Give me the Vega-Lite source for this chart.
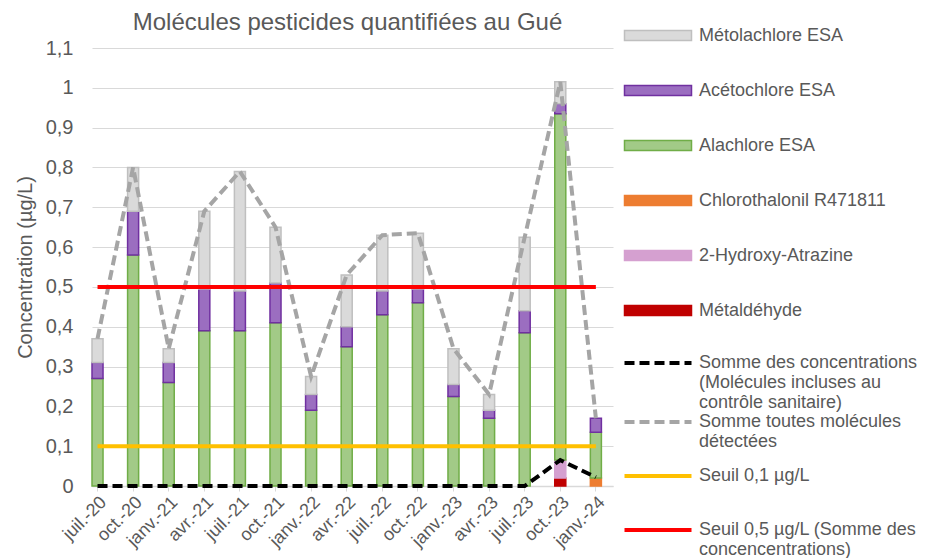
{
  "$schema": "https://vega.github.io/schema/vega-lite/v6.json",
  "width": 521,
  "height": 438,
  "autosize": {"type": "none"},
  "padding": {"left": 92, "top": 48, "right": 314, "bottom": 72},
  "background": "white",
  "config": {
    "font": "Liberation Sans",
    "view": {"stroke": null}
  },
  "title": {
    "text": "Molécules pesticides quantifiées au Gué",
    "fontSize": 24,
    "fontWeight": "normal",
    "color": "#595959",
    "anchor": "middle",
    "frame": "group",
    "dx": -5,
    "offset": -8
  },
  "resolve": {"scale": {"color": "independent", "stroke": "independent", "strokeDash": "independent"}},
  "datasets": {
    "bars": [
      {"date": "juil.-20", "series": "Alachlore ESA", "value": 0.27},
      {"date": "juil.-20", "series": "Acétochlore ESA", "value": 0.04},
      {"date": "juil.-20", "series": "Métolachlore ESA", "value": 0.06},
      {"date": "oct.-20", "series": "Alachlore ESA", "value": 0.58},
      {"date": "oct.-20", "series": "Acétochlore ESA", "value": 0.11},
      {"date": "oct.-20", "series": "Métolachlore ESA", "value": 0.11},
      {"date": "janv.-21", "series": "Alachlore ESA", "value": 0.26},
      {"date": "janv.-21", "series": "Acétochlore ESA", "value": 0.05},
      {"date": "janv.-21", "series": "Métolachlore ESA", "value": 0.035},
      {"date": "avr.-21", "series": "Alachlore ESA", "value": 0.39},
      {"date": "avr.-21", "series": "Acétochlore ESA", "value": 0.105},
      {"date": "avr.-21", "series": "Métolachlore ESA", "value": 0.195},
      {"date": "juil.-21", "series": "Alachlore ESA", "value": 0.39},
      {"date": "juil.-21", "series": "Acétochlore ESA", "value": 0.1},
      {"date": "juil.-21", "series": "Métolachlore ESA", "value": 0.3},
      {"date": "oct.-21", "series": "Alachlore ESA", "value": 0.41},
      {"date": "oct.-21", "series": "Acétochlore ESA", "value": 0.1},
      {"date": "oct.-21", "series": "Métolachlore ESA", "value": 0.14},
      {"date": "janv.-22", "series": "Alachlore ESA", "value": 0.19},
      {"date": "janv.-22", "series": "Acétochlore ESA", "value": 0.04},
      {"date": "janv.-22", "series": "Métolachlore ESA", "value": 0.045},
      {"date": "avr.-22", "series": "Alachlore ESA", "value": 0.35},
      {"date": "avr.-22", "series": "Acétochlore ESA", "value": 0.05},
      {"date": "avr.-22", "series": "Métolachlore ESA", "value": 0.13},
      {"date": "juil.-22", "series": "Alachlore ESA", "value": 0.43},
      {"date": "juil.-22", "series": "Acétochlore ESA", "value": 0.06},
      {"date": "juil.-22", "series": "Métolachlore ESA", "value": 0.14},
      {"date": "oct.-22", "series": "Alachlore ESA", "value": 0.46},
      {"date": "oct.-22", "series": "Acétochlore ESA", "value": 0.035},
      {"date": "oct.-22", "series": "Métolachlore ESA", "value": 0.14},
      {"date": "janv.-23", "series": "Alachlore ESA", "value": 0.225},
      {"date": "janv.-23", "series": "Acétochlore ESA", "value": 0.03},
      {"date": "janv.-23", "series": "Métolachlore ESA", "value": 0.09},
      {"date": "avr.-23", "series": "Alachlore ESA", "value": 0.17},
      {"date": "avr.-23", "series": "Acétochlore ESA", "value": 0.02},
      {"date": "avr.-23", "series": "Métolachlore ESA", "value": 0.04},
      {"date": "juil.-23", "series": "Alachlore ESA", "value": 0.385},
      {"date": "juil.-23", "series": "Acétochlore ESA", "value": 0.055},
      {"date": "juil.-23", "series": "Métolachlore ESA", "value": 0.185},
      {"date": "oct.-23", "series": "Métaldéhyde", "value": 0.02},
      {"date": "oct.-23", "series": "2-Hydroxy-Atrazine", "value": 0.045},
      {"date": "oct.-23", "series": "Alachlore ESA", "value": 0.87},
      {"date": "oct.-23", "series": "Acétochlore ESA", "value": 0.025},
      {"date": "oct.-23", "series": "Métolachlore ESA", "value": 0.055},
      {"date": "janv.-24", "series": "Chlorothalonil R471811", "value": 0.02},
      {"date": "janv.-24", "series": "Alachlore ESA", "value": 0.115},
      {"date": "janv.-24", "series": "Acétochlore ESA", "value": 0.035}
    ],
    "lines": [
      {"date": "juil.-20", "series": "Somme des concentrations|(Molécules incluses au|contrôle sanitaire)", "value": 0},
      {"date": "oct.-20", "series": "Somme des concentrations|(Molécules incluses au|contrôle sanitaire)", "value": 0},
      {"date": "janv.-21", "series": "Somme des concentrations|(Molécules incluses au|contrôle sanitaire)", "value": 0},
      {"date": "avr.-21", "series": "Somme des concentrations|(Molécules incluses au|contrôle sanitaire)", "value": 0},
      {"date": "juil.-21", "series": "Somme des concentrations|(Molécules incluses au|contrôle sanitaire)", "value": 0},
      {"date": "oct.-21", "series": "Somme des concentrations|(Molécules incluses au|contrôle sanitaire)", "value": 0},
      {"date": "janv.-22", "series": "Somme des concentrations|(Molécules incluses au|contrôle sanitaire)", "value": 0},
      {"date": "avr.-22", "series": "Somme des concentrations|(Molécules incluses au|contrôle sanitaire)", "value": 0},
      {"date": "juil.-22", "series": "Somme des concentrations|(Molécules incluses au|contrôle sanitaire)", "value": 0},
      {"date": "oct.-22", "series": "Somme des concentrations|(Molécules incluses au|contrôle sanitaire)", "value": 0},
      {"date": "janv.-23", "series": "Somme des concentrations|(Molécules incluses au|contrôle sanitaire)", "value": 0},
      {"date": "avr.-23", "series": "Somme des concentrations|(Molécules incluses au|contrôle sanitaire)", "value": 0},
      {"date": "juil.-23", "series": "Somme des concentrations|(Molécules incluses au|contrôle sanitaire)", "value": 0},
      {"date": "oct.-23", "series": "Somme des concentrations|(Molécules incluses au|contrôle sanitaire)", "value": 0.065},
      {"date": "janv.-24", "series": "Somme des concentrations|(Molécules incluses au|contrôle sanitaire)", "value": 0.022},
      {"date": "juil.-20", "series": "Somme toutes molécules|détectées", "value": 0.37},
      {"date": "oct.-20", "series": "Somme toutes molécules|détectées", "value": 0.8},
      {"date": "janv.-21", "series": "Somme toutes molécules|détectées", "value": 0.345},
      {"date": "avr.-21", "series": "Somme toutes molécules|détectées", "value": 0.69},
      {"date": "juil.-21", "series": "Somme toutes molécules|détectées", "value": 0.79},
      {"date": "oct.-21", "series": "Somme toutes molécules|détectées", "value": 0.65},
      {"date": "janv.-22", "series": "Somme toutes molécules|détectées", "value": 0.275},
      {"date": "avr.-22", "series": "Somme toutes molécules|détectées", "value": 0.53},
      {"date": "juil.-22", "series": "Somme toutes molécules|détectées", "value": 0.63},
      {"date": "oct.-22", "series": "Somme toutes molécules|détectées", "value": 0.635},
      {"date": "janv.-23", "series": "Somme toutes molécules|détectées", "value": 0.345},
      {"date": "avr.-23", "series": "Somme toutes molécules|détectées", "value": 0.23},
      {"date": "juil.-23", "series": "Somme toutes molécules|détectées", "value": 0.625},
      {"date": "oct.-23", "series": "Somme toutes molécules|détectées", "value": 1.015},
      {"date": "janv.-24", "series": "Somme toutes molécules|détectées", "value": 0.17},
      {"date": "juil.-20", "series": "Seuil 0,1 µg/L", "value": 0.1},
      {"date": "oct.-20", "series": "Seuil 0,1 µg/L", "value": 0.1},
      {"date": "janv.-21", "series": "Seuil 0,1 µg/L", "value": 0.1},
      {"date": "avr.-21", "series": "Seuil 0,1 µg/L", "value": 0.1},
      {"date": "juil.-21", "series": "Seuil 0,1 µg/L", "value": 0.1},
      {"date": "oct.-21", "series": "Seuil 0,1 µg/L", "value": 0.1},
      {"date": "janv.-22", "series": "Seuil 0,1 µg/L", "value": 0.1},
      {"date": "avr.-22", "series": "Seuil 0,1 µg/L", "value": 0.1},
      {"date": "juil.-22", "series": "Seuil 0,1 µg/L", "value": 0.1},
      {"date": "oct.-22", "series": "Seuil 0,1 µg/L", "value": 0.1},
      {"date": "janv.-23", "series": "Seuil 0,1 µg/L", "value": 0.1},
      {"date": "avr.-23", "series": "Seuil 0,1 µg/L", "value": 0.1},
      {"date": "juil.-23", "series": "Seuil 0,1 µg/L", "value": 0.1},
      {"date": "oct.-23", "series": "Seuil 0,1 µg/L", "value": 0.1},
      {"date": "janv.-24", "series": "Seuil 0,1 µg/L", "value": 0.1},
      {"date": "juil.-20", "series": "Seuil 0,5 µg/L (Somme des|concencentrations)", "value": 0.5},
      {"date": "oct.-20", "series": "Seuil 0,5 µg/L (Somme des|concencentrations)", "value": 0.5},
      {"date": "janv.-21", "series": "Seuil 0,5 µg/L (Somme des|concencentrations)", "value": 0.5},
      {"date": "avr.-21", "series": "Seuil 0,5 µg/L (Somme des|concencentrations)", "value": 0.5},
      {"date": "juil.-21", "series": "Seuil 0,5 µg/L (Somme des|concencentrations)", "value": 0.5},
      {"date": "oct.-21", "series": "Seuil 0,5 µg/L (Somme des|concencentrations)", "value": 0.5},
      {"date": "janv.-22", "series": "Seuil 0,5 µg/L (Somme des|concencentrations)", "value": 0.5},
      {"date": "avr.-22", "series": "Seuil 0,5 µg/L (Somme des|concencentrations)", "value": 0.5},
      {"date": "juil.-22", "series": "Seuil 0,5 µg/L (Somme des|concencentrations)", "value": 0.5},
      {"date": "oct.-22", "series": "Seuil 0,5 µg/L (Somme des|concencentrations)", "value": 0.5},
      {"date": "janv.-23", "series": "Seuil 0,5 µg/L (Somme des|concencentrations)", "value": 0.5},
      {"date": "avr.-23", "series": "Seuil 0,5 µg/L (Somme des|concencentrations)", "value": 0.5},
      {"date": "juil.-23", "series": "Seuil 0,5 µg/L (Somme des|concencentrations)", "value": 0.5},
      {"date": "oct.-23", "series": "Seuil 0,5 µg/L (Somme des|concencentrations)", "value": 0.5},
      {"date": "janv.-24", "series": "Seuil 0,5 µg/L (Somme des|concencentrations)", "value": 0.5}
    ]
  },
  "layer": [
    {
      "data": {"name": "bars"},
      "transform": [
        {"calculate": "indexof(['Métaldéhyde','2-Hydroxy-Atrazine','Chlorothalonil R471811','Alachlore ESA','Acétochlore ESA','Métolachlore ESA'], datum.series)", "as": "stackrank"}
      ],
      "mark": {"type": "bar", "strokeWidth": 1.5},
      "encoding": {
        "x": {
          "field": "date", "type": "nominal", "title": null,
          "scale": {
            "domain": ["juil.-20","oct.-20","janv.-21","avr.-21","juil.-21","oct.-21","janv.-22","avr.-22","juil.-22","oct.-22","janv.-23","avr.-23","juil.-23","oct.-23","janv.-24"],
            "paddingInner": 0.69, "paddingOuter": 0.163, "align": 0
          },
          "axis": {
            "labelAngle": -45, "labelFontSize": 18, "labelColor": "#595959",
            "domainColor": "#D9D9D9", "domainWidth": 1.5,
            "tickColor": "#D9D9D9", "tickSize": 5, "labelPadding": 2, "grid": false
          }
        },
        "y": {
          "field": "value", "type": "quantitative", "stack": "zero",
          "title": "Concentration (µg/L)",
          "scale": {"domain": [0, 1.1], "nice": false},
          "axis": {
            "values": [0, 0.1, 0.2, 0.3, 0.4, 0.5, 0.6, 0.7, 0.8, 0.9, 1, 1.1],
            "labelOverlap": false,
            "labelExpr": "replace(format(datum.value, '.1~f'), '.', ',')",
            "grid": true, "gridColor": "#D9D9D9", "gridWidth": 1,
            "domain": false, "ticks": false, "tickSize": 0,
            "labelPadding": 19, "labelFontSize": 20, "labelColor": "#595959",
            "titleFontSize": 20, "titleFontWeight": "normal", "titleColor": "#595959",
            "titlePadding": 10
          }
        },
        "order": {"field": "stackrank", "type": "quantitative", "sort": "ascending"},
        "color": {
          "field": "series", "type": "nominal",
          "scale": {
            "domain": ["Métolachlore ESA","Acétochlore ESA","Alachlore ESA","Chlorothalonil R471811","2-Hydroxy-Atrazine","Métaldéhyde"],
            "range": ["#DADADA","#9B6EC0","#A2CA87","#ED7D31","#D5A0D0","#C00000"]
          },
          "legend": {
            "orient": "none", "legendX": 557, "legendY": -21.5,
            "title": null, "padding": 0, "rowPadding": 0,
            "labelFontSize": 18, "labelColor": "#595959", "labelLimit": 0,
            "labelBaseline": "top", "labelOffset": 32,
            "symbolSize": 100, "symbolStrokeWidth": 1.5,
            "symbolType": "M-6.7,-1H6.7V1H-6.7ZM0,-1.2M0,8.52",
            "encode": {"labels": {"update": {"dy": {"value": -9}}}}
          }
        },
        "stroke": {
          "field": "series", "type": "nominal",
          "scale": {
            "domain": ["Métolachlore ESA","Acétochlore ESA","Alachlore ESA","Chlorothalonil R471811","2-Hydroxy-Atrazine","Métaldéhyde"],
            "range": ["#BFBFBF","#7030A0","#70AD47","#ED7D31","#D5A0D0","#C00000"]
          },
          "legend": {
            "orient": "none", "legendX": 557, "legendY": -21.5,
            "title": null, "padding": 0, "rowPadding": 0,
            "labelFontSize": 18, "labelColor": "#595959", "labelLimit": 0,
            "labelBaseline": "top", "labelOffset": 32,
            "symbolSize": 100, "symbolStrokeWidth": 1.5,
            "symbolType": "M-6.7,-1H6.7V1H-6.7ZM0,-1.2M0,8.52",
            "encode": {"labels": {"update": {"dy": {"value": -9}}}}
          }
        }
      }
    },
    {
      "data": {"name": "lines"},
      "mark": {"type": "line", "strokeWidth": 4},
      "encoding": {
        "x": {"field": "date", "type": "nominal"},
        "y": {
          "field": "value", "type": "quantitative", "stack": null,
          "title": "Concentration (µg/L)",
          "axis": {
            "values": [0, 0.1, 0.2, 0.3, 0.4, 0.5, 0.6, 0.7, 0.8, 0.9, 1, 1.1],
            "labelOverlap": false,
            "labelExpr": "replace(format(datum.value, '.1~f'), '.', ',')",
            "grid": true, "gridColor": "#D9D9D9", "gridWidth": 1,
            "domain": false, "ticks": false, "tickSize": 0,
            "labelPadding": 19, "labelFontSize": 20, "labelColor": "#595959",
            "titleFontSize": 20, "titleFontWeight": "normal", "titleColor": "#595959",
            "titlePadding": 10
          }
        },
        "order": {"value": null},
        "color": {
          "field": "series", "type": "nominal",
          "scale": {
            "domain": ["Somme des concentrations|(Molécules incluses au|contrôle sanitaire)","Somme toutes molécules|détectées","Seuil 0,1 µg/L","Seuil 0,5 µg/L (Somme des|concencentrations)"],
            "range": ["#000000","#A5A5A5","#FFC000","#FF0000"]
          },
          "legend": {
            "orient": "none", "legendX": 557, "legendY": 306,
            "title": null, "padding": 0, "rowPadding": 0,
            "labelFontSize": 18, "labelColor": "#595959", "labelLimit": 0,
            "labelBaseline": "top", "labelOffset": 32,
            "symbolSize": 100, "symbolStrokeWidth": 4,
            "symbolType": "M-6.7,0H6.7M0,-0.3M0,7.2",
            "encode": {"labels": {"update": {"dy": {"value": -9}, "lineBreak": {"value": "|"}, "lineHeight": {"value": 20}}}}
          }
        },
        "strokeDash": {
          "field": "series", "type": "nominal",
          "scale": {
            "domain": ["Somme des concentrations|(Molécules incluses au|contrôle sanitaire)","Somme toutes molécules|détectées","Seuil 0,1 µg/L","Seuil 0,5 µg/L (Somme des|concencentrations)"],
            "range": [[10,5],[10,5],[1,0],[1,0]]
          },
          "legend": {
            "orient": "none", "legendX": 557, "legendY": 306,
            "title": null, "padding": 0, "rowPadding": 0,
            "labelFontSize": 18, "labelColor": "#595959", "labelLimit": 0,
            "labelBaseline": "top", "labelOffset": 32,
            "symbolSize": 100, "symbolStrokeWidth": 4,
            "symbolType": "M-6.7,0H6.7M0,-0.3M0,7.2",
            "encode": {"labels": {"update": {"dy": {"value": -9}, "lineBreak": {"value": "|"}, "lineHeight": {"value": 20}}}}
          }
        }
      }
    }
  ]
}
